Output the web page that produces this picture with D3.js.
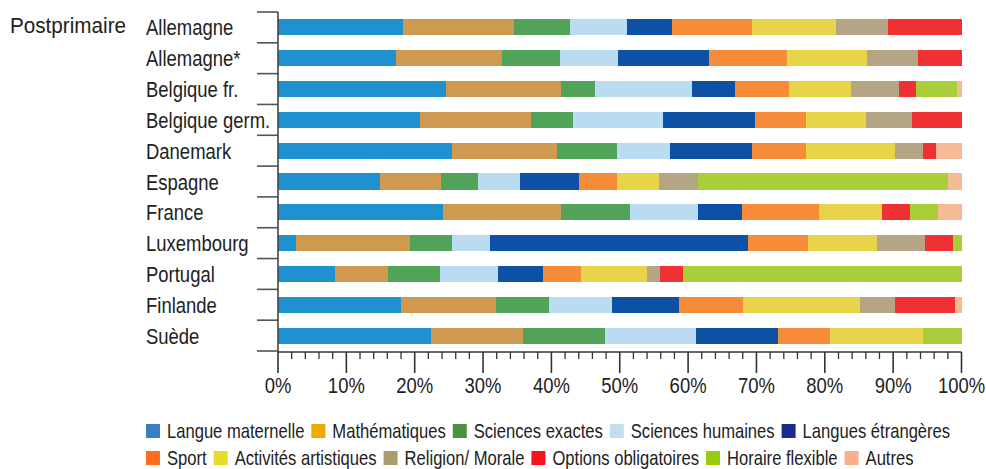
<!DOCTYPE html>
<html><head><meta charset="utf-8">
<script src="https://cdn.jsdelivr.net/npm/d3@7/dist/d3.min.js"></script>
<style>
html,body{margin:0;padding:0;background:#fff;}
svg{display:block;}
text{font-family:"Liberation Sans",Arial,sans-serif;fill:#222;}
</style></head>
<body><svg id="chart" width="986" height="469"></svg>
<script>
const countries = ["Allemagne","Allemagne*","Belgique fr.","Belgique germ.","Danemark","Espagne","France","Luxembourg","Portugal","Finlande","Suède"];
const seriesNames = ["Langue maternelle","Mathématiques","Sciences exactes","Sciences humaines","Langues étrangères","Sport","Activités artistiques","Religion/ Morale","Options obligatoires","Horaire flexible","Autres"];
const langueMaternelle   = [18.3,17.3,24.6,20.8,25.5,14.9,24.2, 2.6, 8.3,18.0,22.4];
const mathematiques      = [16.3,15.5,16.8,16.2,15.3, 9.0,17.2,16.7, 7.8,13.9,13.5];
const sciencesExactes    = [ 8.1, 8.5, 5.0, 6.2, 8.8, 5.4,10.1, 6.2, 7.6, 7.8,12.0];
const sciencesHumaines   = [ 8.4, 8.5,14.1,13.2, 7.8, 6.1,10.0, 5.5, 8.5, 9.1,13.3];
const languesEtrangeres  = [ 6.6,13.3, 6.4,13.4,11.9, 8.7, 6.4,37.7, 6.5, 9.8,12.0];
const sport              = [11.6,11.4, 7.8, 7.4, 8.0, 5.5,11.2, 8.9, 5.7, 9.5, 7.5];
const activitesArtist    = [12.4,11.7, 9.2, 8.8,12.9, 6.2, 9.2,10.1, 9.6,17.1,13.6];
const religionMorale     = [ 7.5, 7.5, 7.0, 6.8, 4.2, 5.7, 0.0, 7.0, 1.9, 5.0, 0.0];
const optionsOblig       = [10.8, 6.3, 2.4, 7.2, 1.8, 0.0, 4.2, 4.0, 3.4, 8.9, 0.0];
const horaireFlexible    = [ 0.0, 0.0, 6.0, 0.0, 0.0,36.5, 4.0, 1.3,40.7, 0.0, 5.7];
const autres             = [ 0.0, 0.0, 0.7, 0.0, 3.8, 2.0, 3.5, 0.0, 0.0, 0.9, 0.0];
const seriesValues = [langueMaternelle,mathematiques,sciencesExactes,sciencesHumaines,languesEtrangeres,sport,activitesArtist,religionMorale,optionsOblig,horaireFlexible,autres];
const tickValues = [0,10,20,30,40,50,60,70,80,90,100];
const barColors = ["#1f91d0","#cf994f","#52a35a","#badcf3","#0c51a3","#f68b39","#e8d449","#b4a684","#ef3134","#a8ce3a","#f6bb96"];
const legendColors = ["#3a7fc1","#eeaa00","#4a9140","#c3dfee","#1a2a8f","#ff6d1f","#e6dc2a","#ab9d6e","#ff1020","#99cc11","#fbb08c"];
const legendRows = [[0,1,2,3,4],[5,6,7,8,9,10]];

const svg = d3.select("#chart");
const x = d3.scaleLinear().domain([0,100]).range([278,961.5]);
const y = d3.scaleBand().domain(countries).range([12,351]).paddingInner(0.48).paddingOuter(0.24);

function narrowText(parent, tx, ty, str, size, sx, anchor){
  return parent.append("text")
    .attr("transform",`translate(${tx},${ty}) scale(${sx},1)`)
    .attr("font-size",size).attr("text-anchor",anchor||"start").text(str);
}

const table = countries.map((c,i)=>{const o={country:c}; seriesNames.forEach((s,k)=>o[s]=seriesValues[k][i]); return o;});
const stacked = d3.stack().keys(seriesNames)(table);

svg.append("g").selectAll("g").data(stacked).join("g")
  .attr("fill",(d,i)=>barColors[i])
  .selectAll("rect").data(d=>d.filter(p=>p[1]-p[0]>0)).join("rect")
  .attr("x",d=>x(d[0])).attr("width",d=>x(d[1])-x(d[0]))
  .attr("y",d=>y(d.data.country)).attr("height",y.bandwidth())
  .attr("shape-rendering","crispEdges");

// left axis with separators
const step = y.step();
const y0 = y.range()[0];
const seps = d3.range(countries.length+1).map(i=>y0+i*step);
svg.append("g").selectAll("line").data(seps).join("line")
  .attr("x1",257).attr("x2",278).attr("y1",d=>d).attr("y2",d=>d)
  .attr("stroke","#555").attr("stroke-width",1.6);
svg.append("line").attr("x1",278).attr("x2",278).attr("y1",y0).attr("y2",352)
  .attr("stroke","#444").attr("stroke-width",1.6);

const lab = svg.append("g");
countries.forEach(c=>narrowText(lab,146,y(c)+y.bandwidth()/2+8,c,22,0.84));
narrowText(svg,10,33,"Postprimaire",22,0.94);

// bottom axis
const xAxis = svg.append("g").attr("transform","translate(0,352)");
xAxis.append("line").attr("x1",x(0)).attr("x2",x(100)).attr("stroke","#333").attr("stroke-width",1.6);
const minor = d3.range(0,101,2).filter(v=>v%10!==0);
xAxis.selectAll("line.mi").data(minor).join("line").attr("class","mi")
  .attr("x1",d=>x(d)).attr("x2",d=>x(d)).attr("y1",0).attr("y2",7)
  .attr("stroke","#333").attr("stroke-width",1.3);
xAxis.selectAll("line.ma").data(tickValues).join("line").attr("class","ma")
  .attr("x1",d=>x(d)).attr("x2",d=>x(d)).attr("y1",0).attr("y2",21)
  .attr("stroke","#333").attr("stroke-width",1.6);
tickValues.forEach(v=>narrowText(xAxis,x(v),41,v+"%",22,0.84,"middle"));

// legend
const rowY = [424,451];
const legendScale = 0.83;
legendRows.forEach((row,r)=>{
  let cx = 146;
  row.forEach(k=>{
    const g = svg.append("g");
    g.append("rect").attr("x",cx).attr("y",rowY[r]).attr("width",14).attr("height",14).attr("fill",legendColors[k]);
    const t = narrowText(g,cx+21,rowY[r]+14,seriesNames[k],20,legendScale);
    cx += 21 + t.node().getComputedTextLength()*legendScale + 7;
  });
});
</script></body></html>
